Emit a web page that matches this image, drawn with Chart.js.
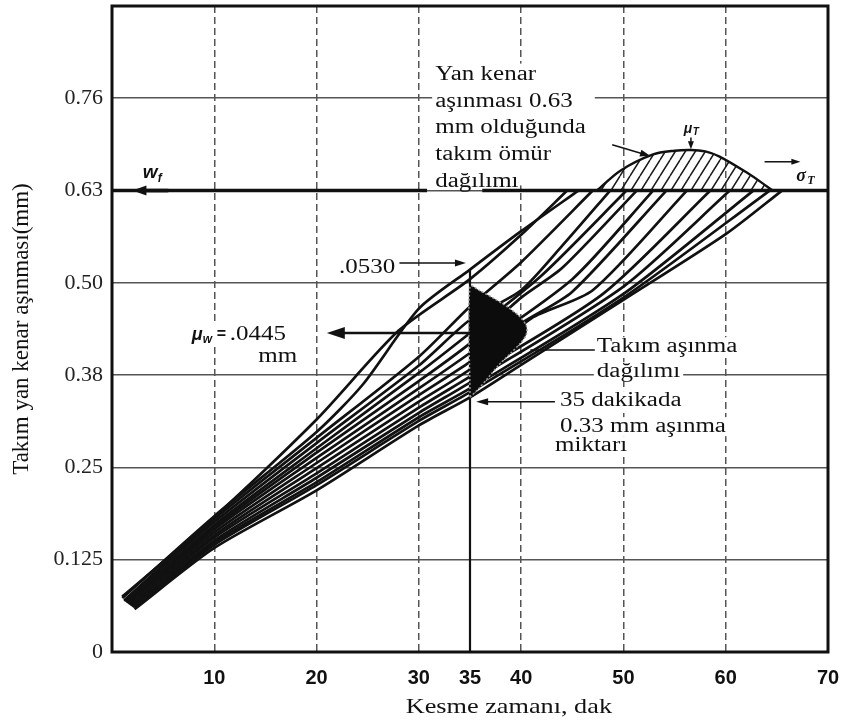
<!DOCTYPE html>
<html><head><meta charset="utf-8">
<script src="https://cdn.jsdelivr.net/npm/chart.js@4.4.1/dist/chart.umd.min.js"></script>
<style>html,body{margin:0;padding:0;background:#fff;}#wrap{width:845px;height:725px;position:relative;}</style>
</head><body><div id="wrap"><canvas id="c"></canvas></div>
<script>
// ---- axis ticks ----
const xTickValues = [10, 20, 30, 35, 40, 50, 60, 70];
const xGridValues = [10, 20, 30, 40, 50, 60];
const yTickValues = [0, 0.125, 0.25, 0.375, 0.5, 0.625, 0.75];
const yTickLabels = ['0', '0.125', '0.25', '0.38', '0.50', '0.63', '0.76'];
const lifeLimit = 0.625;          // flank wear limit "0.63 mm"
const markTime = 35;              // 35 min
const markTopWear = 0.518;        // ".0530"

// ---- tool wear curves [time (min), flank wear] ----
const curve1  = [[1,0.075],[9,0.17],[20,0.315],[28,0.435],[35,0.505],[40,0.565],[44.5,0.625]];
const curve2  = [[1,0.073],[10,0.184],[20,0.298],[24.5,0.362],[30,0.465],[35,0.518],[40,0.57],[45.6,0.625]];
const curve3  = [[1.2,0.07],[10,0.18],[20,0.29],[30,0.40],[35,0.468],[40,0.528],[47,0.625]];
const curve4  = [[1.2,0.069],[10,0.176],[20,0.283],[30,0.388],[35,0.45],[40,0.49],[44,0.55],[48.7,0.625]];
const curve5  = [[1.4,0.068],[10,0.172],[20,0.276],[30,0.378],[35,0.432],[42,0.51],[50.3,0.625]];
const curve6  = [[1.4,0.067],[10,0.169],[20,0.27],[30,0.367],[35,0.418],[40,0.48],[44,0.52],[51.3,0.625]];
const curve7  = [[1.6,0.066],[10,0.166],[20,0.263],[30,0.357],[35,0.405],[45,0.505],[52.9,0.625]];
const curve8  = [[1.6,0.065],[10,0.162],[20,0.256],[30,0.348],[35,0.393],[40,0.445],[45,0.488],[54.2,0.625]];
const curve9  = [[1.8,0.064],[10,0.158],[20,0.249],[30,0.339],[35,0.383],[41,0.452],[47,0.49],[56.2,0.625]];
const curve10 = [[1.8,0.063],[10,0.155],[20,0.242],[30,0.331],[35,0.373],[48,0.485],[58.5,0.625]];
const curve11 = [[2,0.062],[10,0.151],[20,0.236],[30,0.324],[35,0.365],[50,0.495],[60.4,0.625]];
const curve12 = [[2,0.061],[10,0.148],[20,0.23],[30,0.318],[35,0.357],[50,0.485],[62.7,0.625]];
const curve13 = [[2.2,0.06],[10,0.145],[20,0.226],[30,0.313],[35,0.352],[50,0.48],[64.3,0.625]];
const curve14 = [[2.2,0.058],[10,0.141],[20,0.219],[30,0.307],[35,0.345],[40,0.389],[50,0.477],[60,0.566],[65.5,0.625]];
const wearCurves = [curve1,curve2,curve3,curve4,curve5,curve6,curve7,curve8,curve9,curve10,curve11,curve12,curve13,curve14];

// ---- tool wear distribution at 35 min (closed outline) ----
const wearDist35 = [[35,0.345],[35.8,0.356],[36.8,0.372],[37.9,0.39],[39,0.405],[39.9,0.418],[40.5,0.43],[40.5,0.442],[39.8,0.455],[38.7,0.467],[37.3,0.479],[36,0.489],[35,0.495],[35,0.345]];
// ---- tool life distribution at 0.63 mm ----
const lifeDist = [[47.4,0.625],[49.7,0.652],[52.9,0.674],[55,0.679],[56.6,0.68],[58,0.678],[59.4,0.671],[62.1,0.649],[64,0.631],[64.6,0.625]];
// limit line segments (gap where the label sits)
const limitLineX = [[0, 30.8], [36.2, 70]];

const pts = a => a.map(([x, y]) => ({x, y}));

// hatch pattern
const pc = document.createElement('canvas'); pc.width = 10; pc.height = 16;
const pg = pc.getContext('2d');
pg.strokeStyle = '#1a1a1a'; pg.lineWidth = 1.5;
pg.beginPath(); pg.moveTo(0,16); pg.lineTo(10,0); pg.moveTo(-10,16); pg.lineTo(0,0); pg.moveTo(10,16); pg.lineTo(20,0); pg.stroke();
const hatch = pg.createPattern(pc, 'repeat');

const datasets = [];
wearCurves.forEach((c, i) => datasets.push({label: 'wear ' + (i+1), data: pts(c), borderColor: '#111', borderWidth: 2.7, tension: 0.25, fill: false, order: 5}));
datasets.push({label: '35 min', data: pts([[markTime, 0], [markTime, markTopWear]]), borderColor: '#111', borderWidth: 2.2, fill: false, order: 4});
datasets.push({label: 'life dist', data: pts(lifeDist), borderColor: '#111', borderWidth: 2.4, tension: 0.3, fill: {value: lifeLimit}, backgroundColor: hatch, order: 3});
datasets.push({label: 'wear dist', data: pts(wearDist35), borderColor: '#9a9a9a', borderDash: [2, 2], borderWidth: 1.5, tension: 0.3, fill: 'shape', backgroundColor: '#0c0c0c', order: 2});
const limitData = [];
limitLineX.forEach(([a, b], i) => { if (i) limitData.push({x: (a + limitLineX[i-1][1]) / 2, y: null}); limitData.push({x: a, y: lifeLimit}, {x: b, y: lifeLimit}); });
datasets.push({label: 'limit', data: limitData, borderColor: '#111', borderWidth: 3.6, spanGaps: false, fill: false, order: 1});

const SX = 1.25;
const SERIF = '20px "Liberation Serif"';
function txt(ctx, s, px, py, font, opt = {}) {
  ctx.save(); ctx.font = font; ctx.textBaseline = 'alphabetic'; ctx.textAlign = 'left';
  const sx = opt.sx ?? SX; const m = ctx.measureText(s); const w = m.width * sx;
  let x0 = px; if (opt.align === 'right') x0 = px - w; else if (opt.align === 'center') x0 = px - w / 2;
  if (opt.bgOnly) { ctx.fillStyle = '#fff'; ctx.fillRect(x0 - 3, py - m.fontBoundingBoxAscent + 3, w + 6, m.fontBoundingBoxAscent + m.fontBoundingBoxDescent - 3); ctx.restore(); return x0 + w; }
  ctx.translate(x0, py); ctx.scale(sx, 1); ctx.fillStyle = opt.color || '#111'; ctx.fillText(s, 0, 0);
  ctx.restore(); return x0 + w;
}
function arrow(ctx, x1, y1, x2, y2, lw = 1.5, hl = 11, hw = 4) {
  const a = Math.atan2(y2 - y1, x2 - x1), c = Math.cos(a), s = Math.sin(a);
  ctx.save(); ctx.strokeStyle = '#111'; ctx.fillStyle = '#111'; ctx.lineWidth = lw;
  ctx.beginPath(); ctx.moveTo(x1, y1); ctx.lineTo(x2 - c * hl * 0.7, y2 - s * hl * 0.7); ctx.stroke();
  ctx.beginPath(); ctx.moveTo(x2, y2);
  ctx.lineTo(x2 - c * hl - s * hw, y2 - s * hl + c * hw);
  ctx.lineTo(x2 - c * hl + s * hw, y2 - s * hl - c * hw);
  ctx.closePath(); ctx.fill(); ctx.restore();
}
const blockLines = ['Yan kenar', 'aşınması 0.63', 'mm olduğunda', 'takım ömür', 'dağılımı'];
const wearLabel = ['Takım aşınma', 'dağılımı'];
const at35Label = ['35 dakikada', '0.33 mm aşınma', 'miktarı'];

const annot = {
  id: 'annot',
  beforeDatasetsDraw(chart) {
    const {ctx, scales: {x, y}} = chart; const X = v => x.getPixelForValue(v), Y = v => y.getPixelForValue(v);
    ctx.save(); ctx.fillStyle = '#fff';
    ctx.fillRect(X(31.3), Y(0.797), X(47.2) - X(31.3), Y(0.632) - Y(0.797));
    ctx.restore();
    wearLabel.forEach((s, i) => txt(ctx, s, X(47.4), Y(0.406) + i * 25, SERIF, {bgOnly: true}));
    at35Label.forEach((s, i) => txt(ctx, s, X(43.8) - (i === 2 ? 5 : 0), Y(0.333) + i * 26 - (i === 2 ? 7 : 0), SERIF, {bgOnly: true}));
    txt(ctx, 'μw = .0445', X(7.6), Y(0.4226), SERIF, {bgOnly: true, sx: 1.1});
  },
  afterDatasetsDraw(chart) {
    const {ctx, chartArea: ca, scales: {x, y}} = chart; const X = v => x.getPixelForValue(v), Y = v => y.getPixelForValue(v);
    // frame
    ctx.save(); ctx.strokeStyle = '#111'; ctx.lineWidth = 3;
    ctx.strokeRect(ca.left, ca.top, ca.right - ca.left, ca.bottom - ca.top); ctx.restore();
    // w_f
    ctx.save(); ctx.fillStyle = '#111';
    ctx.font = 'italic bold 19px "Liberation Sans"'; ctx.fillText('w', X(3.0), Y(0.642));
    ctx.font = 'italic bold 12px "Liberation Sans"'; ctx.fillText('f', X(3.0) + 15, Y(0.642) + 4);
    ctx.restore();
    arrow(ctx, X(5.5), Y(lifeLimit), X(2.0), Y(lifeLimit), 3.6, 14, 5);
    // text block
    blockLines.forEach((s, i) => txt(ctx, s, X(31.6), Y(0.775) + i * 26.8, SERIF));
    arrow(ctx, X(48.9), Y(0.687), X(52.6), Y(0.672), 1.5, 10, 3.5);
    // mu_T
    ctx.save(); ctx.fillStyle = '#111';
    ctx.font = 'italic bold 14px "Liberation Sans"'; ctx.fillText('μ', X(55.9), Y(0.703));
    ctx.font = 'italic bold 10px "Liberation Sans"'; ctx.fillText('T', X(55.9) + 9, Y(0.703) + 2);
    ctx.restore();
    arrow(ctx, X(56.6), Y(0.697), X(56.6), Y(0.681), 1.5, 8, 3);
    // sigma_T
    ctx.save(); ctx.fillStyle = '#111';
    ctx.font = 'italic bold 18px "Liberation Serif"'; ctx.fillText('σ', X(66.9), Y(0.638));
    ctx.font = 'italic bold 12px "Liberation Serif"'; ctx.fillText('T', X(66.9) + 11, Y(0.638) + 3);
    ctx.restore();
    arrow(ctx, X(63.8), Y(0.664), X(67.3), Y(0.664), 1.5, 9, 3);
    // .0530
    txt(ctx, '.0530', X(27.7), Y(0.513), SERIF, {align: 'right'});
    arrow(ctx, X(28.1), Y(0.527), X(34.6), Y(0.527), 1.5, 11, 3.5);
    // mu_w = .0445 mm
    ctx.save(); ctx.fillStyle = '#111';
    ctx.font = 'italic bold 18px "Liberation Sans"'; ctx.fillText('μ', X(7.8), Y(0.4226));
    ctx.font = 'italic bold 12px "Liberation Sans"'; ctx.fillText('w', X(7.8) + 11, Y(0.4226) + 3);
    ctx.font = 'bold 16px "Liberation Sans"'; ctx.fillText('=', X(7.8) + 25, Y(0.4226) - 1);
    ctx.restore();
    txt(ctx, '.0445', X(7.8) + 38, Y(0.4226), SERIF);
    txt(ctx, 'mm', X(14.3), Y(0.393), SERIF);
    arrow(ctx, X(markTime), Y(0.432), X(21), Y(0.432), 2.6, 18, 6);
    // tool wear distribution label
    wearLabel.forEach((s, i) => txt(ctx, s, X(47.4), Y(0.406) + i * 25, SERIF));
    ctx.save(); ctx.strokeStyle = '#111'; ctx.lineWidth = 1.5; ctx.beginPath(); ctx.moveTo(X(40.9), Y(0.409)); ctx.lineTo(X(47.2), Y(0.409)); ctx.stroke(); ctx.restore();
    // 35 min label
    at35Label.forEach((s, i) => txt(ctx, s, X(43.8) - (i === 2 ? 5 : 0), Y(0.333) + i * 26 - (i === 2 ? 7 : 0), SERIF));
    arrow(ctx, X(43.3), Y(0.339), X(35.6), Y(0.339), 1.5, 12, 3.5);
    // x axis title
    txt(ctx, 'Kesme zamanı, dak', X(38.8), ca.bottom + 61, '21px "Liberation Serif"', {align: 'center'});
  }
};

new Chart(document.getElementById('c'), {
  type: 'line',
  data: {datasets},
  options: {
    responsive: true, maintainAspectRatio: false, animation: false,
    layout: {padding: {left: 0, right: 17, top: 6, bottom: 0}},
    plugins: {legend: {display: false}, tooltip: {enabled: false}},
    elements: {point: {radius: 0, hoverRadius: 0}},
    scales: {
      x: {
        type: 'linear', min: 0, max: 70,
        afterBuildTicks: s => { s.ticks = xTickValues.map(v => ({value: v})); },
        afterFit: s => { s.height = 73; s.paddingLeft = 0; s.paddingRight = 0; },
        ticks: {padding: 14, autoSkip: false, maxRotation: 0, color: '#111', font: {family: 'Liberation Sans', size: 20, weight: 'bold'}, callback: v => String(v)},
        grid: {drawTicks: false, lineWidth: 1.5, color: c => (c.tick && xGridValues.includes(c.tick.value)) ? '#555' : 'rgba(0,0,0,0)'},
        border: {display: false, dash: [7, 4]}
      },
      y: {
        type: 'linear', min: 0, max: 0.875,
        afterBuildTicks: s => { s.ticks = yTickValues.map(v => ({value: v})); },
        afterFit: s => { s.width = 112; s.paddingTop = 0; s.paddingBottom = 0; },
        ticks: {padding: 9, color: '#222', font: {family: 'Liberation Serif', size: 22},
          callback: v => { const i = yTickValues.findIndex(t => Math.abs(t - v) < 1e-6); return i >= 0 ? yTickLabels[i] : ''; }},
        grid: {drawTicks: false, lineWidth: 1.6, color: c => (c.tick && c.tick.value > 0) ? '#555' : 'rgba(0,0,0,0)'},
        border: {display: false},
        title: {display: true, text: 'Takım yan kenar aşınması(mm)', color: '#111', font: {family: 'Liberation Serif', size: 23}, padding: {top: 8, bottom: 0}}
      }
    }
  },
  plugins: [annot]
});
</script></body></html>
